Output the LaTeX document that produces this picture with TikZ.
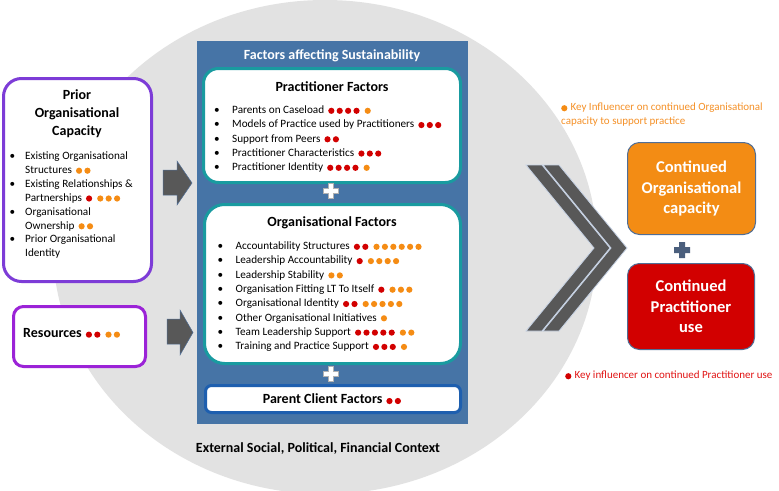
\documentclass[tikz,border=0pt]{standalone}
\usepackage{fontspec}
\setmainfont{Carlito}
% one coloured key dot, repeated #2 times
\newcommand{\kd}[2]{\foreach \j in {1,...,#2}{\tikz[baseline=-2.7pt]\fill[#1] (0,0) circle (3.1pt);\hspace{2.2pt}}}
% red dots then orange dots after a label
\newcommand{\kdots}[2]{\hspace{4pt}\ifnum#1>0 \kd{dotred}{#1}\hspace{2.8pt}\fi\ifnum#2>0 \kd{dotorange}{#2}\fi}
\begin{document}
\begin{tikzpicture}[x=1pt,y=-1pt,
  item/.style={font=\fontsize{11.2}{13}\selectfont, inner sep=0pt, text height=7.5pt, text depth=2.5pt, anchor=west},
  boxtitle/.style={font=\fontsize{14}{18}\selectfont\bfseries, inner sep=0pt, align=center},
  factorbox/.style={draw=teal1, line width=3pt, fill=white, rounded corners=15pt},
  inputbox/.style={line width=3pt, fill=white, rounded corners=18pt},
  outcome/.style={draw=edgeblue, line width=1pt, rounded corners=12pt, text=white, inner sep=0pt,
    font=\fontsize{16.5}{20.5}\selectfont\bfseries, align=center},
  legend/.style={font=\fontsize{11}{14}\selectfont, inner sep=0pt, align=left, anchor=west},
  blockarrow/.style={fill=arrowgray, draw=edgeblue, line width=0.5pt},
  chevron/.style={fill=arrowgray, draw=chevedge, line width=0.8pt},
  plussign/.style={fill=white, draw=gray!60, line width=0.6pt}]
\definecolor{ctxgray}{RGB}{226,226,226}
\definecolor{panelblue}{RGB}{70,116,166}
\definecolor{teal1}{RGB}{25,155,160}
\definecolor{parentblue}{RGB}{30,95,175}
\definecolor{priorpurple}{RGB}{125,60,215}
\definecolor{respurple}{RGB}{155,35,215}
\definecolor{arrowgray}{RGB}{88,88,88}
\definecolor{edgeblue}{RGB}{80,110,150}
\definecolor{chevedge}{RGB}{200,212,230}
\definecolor{dotred}{RGB}{210,0,0}
\definecolor{dotorange}{RGB}{245,140,20}
\definecolor{capacityorange}{RGB}{243,140,20}
\definecolor{usered}{RGB}{210,0,0}
\definecolor{keyorange}{RGB}{245,145,40}
\definecolor{keyred}{RGB}{225,20,20}
\definecolor{plusblue}{RGB}{75,95,125}
\useasboundingbox (0,0) rectangle (779,490);
\fill[white] (0,0) rectangle (779,490);
% context
\fill[ctxgray] (325,247) ellipse [x radius=272pt, y radius=247pt];
\node[boxtitle] (context) at (318,449) {External Social, Political, Financial Context};
% factors panel
\node[fill=panelblue, minimum width=271pt, minimum height=383pt, inner sep=0pt] (panel) at (332.5,232.5) {};
\node[boxtitle, text=white] (paneltitle) at (332,56) {Factors affecting Sustainability};
\node[factorbox, minimum width=257pt, minimum height=114pt] (pract) at (332,125.5) {};
\node[boxtitle] (practtitle) at (332,87) {Practitioner Factors};
\foreach \txt/\nred/\nor [count=\i] in {Parents on Caseload/4/1, Models of Practice used by Practitioners/3/0,
    Support from Peers/2/0, Practitioner Characteristics/3/0, Practitioner Identity/4/1}
  \node[item] (pf\i) at (214,96.75+14.25*\i) {\makebox[18pt][l]{\textbullet}\txt\kdots{\nred}{\nor}};
\node[factorbox, rounded corners=20pt, minimum width=256pt, minimum height=159pt] (org) at (332.5,284) {};
\node[boxtitle] (orgtitle) at (332,223) {Organisational Factors};
\foreach \txt/\nred/\nor [count=\i] in {Accountability Structures/2/6, Leadership Accountability/1/4,
    Leadership Stability/0/2, Organisation Fitting LT To Itself/1/3, Organisational Identity/2/5,
    Other Organisational Initiatives/0/1, Team Leadership Support/5/2, Training and Practice Support/3/1}
  \node[item] (of\i) at (217.5,232.7+14.3*\i) {\makebox[18pt][l]{\textbullet}\txt\kdots{\nred}{\nor}};
\node[factorbox, draw=parentblue, rounded corners=6pt, minimum width=255pt, minimum height=27pt,
  font=\fontsize{14}{18}\selectfont\bfseries] (parent) at (333,399) {Parent Client Factors\kdots{2}{0}};
\foreach \px/\py in {331/191,331/374}
  \draw[plussign, shift={(\px,\py)}] (-2.5,-7.5) -- (2.5,-7.5) -- (2.5,-2.5) -- (7.5,-2.5) -- (7.5,2.5) -- (2.5,2.5)
    -- (2.5,7.5) -- (-2.5,7.5) -- (-2.5,2.5) -- (-7.5,2.5) -- (-7.5,-2.5) -- (-2.5,-2.5) -- cycle;
% inputs
\node[inputbox, draw=priorpurple, minimum width=148pt, minimum height=203pt] (prior) at (77.5,180) {};
\node[boxtitle] (priortitle) at (77,114) {Prior\\Organisational\\Capacity};
\foreach \txt/\bul/\nred/\nor [count=\i] in {Existing Organisational/1/0/0, Structures/0/0/2,
    Existing Relationships \&/1/0/0, Partnerships/0/1/3, Organisational/1/0/0, Ownership/0/0/2,
    Prior Organisational/1/0/0, Identity/0/0/0}
  \node[item] (pc\i) at (9.5,143.1+13.9*\i) {\makebox[15.5pt][l]{\ifnum\bul=1 \textbullet\fi}\txt\kdots{\nred}{\nor}};
\node[inputbox, draw=respurple, rounded corners=10pt, minimum width=132pt, minimum height=60pt] (res) at (79.5,336.5) {};
\node[boxtitle, anchor=west] (restext) at (23,333) {Resources\kdots{2}{2}};
\draw[blockarrow] (163,170) -- (177,170) -- (177,161) -- (192,183) -- (177,205) -- (177,195) -- (163,195) -- cycle;
\draw[blockarrow] (167,319) -- (180,319) -- (180,310) -- (193,332.5) -- (180,355) -- (180,344) -- (167,344) -- cycle;
% outcomes
\foreach \cx in {526,543}
  \draw[chevron] (\cx,165) -- (\cx+16,165) -- (\cx+84,248) -- (\cx+16,331) -- (\cx,331) -- (\cx+68,248) -- cycle;
\node[outcome, fill=capacityorange, minimum width=128pt, minimum height=92pt] (orgcap) at (691.5,188.5) {Continued\\Organisational\\capacity};
\node[outcome, fill=usered, minimum width=127pt, minimum height=86pt] (pracuse) at (691,306.5) {Continued\\Practitioner\\use};
\fill[plusblue, shift={(682,250)}] (-3,-8) -- (3,-8) -- (3,-3) -- (8,-3) -- (8,3) -- (3,3)
  -- (3,8) -- (-3,8) -- (-3,3) -- (-8,3) -- (-8,-3) -- (-3,-3) -- cycle;
\node[legend, text=keyorange] (keyorg) at (561,115) {\kd{dotorange}{1}\hspace{1pt}Key Influencer on continued Organisational\\capacity to support practice};
\node[legend, text=keyred] (keyprac) at (565,376) {\kd{dotred}{1}\hspace{1pt}Key influencer on continued Practitioner use};
\end{tikzpicture}
\end{document}
